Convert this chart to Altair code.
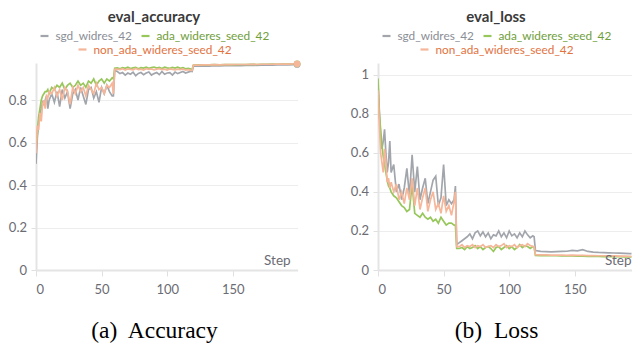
import altair as alt
import pandas as pd

steps = [0, 1, 2, 3, 4, 5, 6, 7, 8, 9, 10,
         12, 14, 16, 18, 20, 22, 24, 26, 28, 30, 32, 34, 36, 38, 40, 42, 44, 46, 48, 50, 52, 54, 56, 58,
         59, 60,
         62, 64, 66, 68, 70, 72, 74, 76, 78, 80, 82, 84, 86, 88, 90, 92, 94, 96, 98, 100, 102, 104, 106, 108,
         110, 112, 114, 116, 118,
         119, 120,
         124, 128, 132, 136, 140, 144, 148, 152, 156, 160, 164, 168, 172, 176, 180, 184, 188, 192, 196,
         199]

names = ["sgd_widres_42", "ada_wideres_seed_42", "non_ada_wideres_seed_42"]

acc_sgd = [0.50, 0.62, 0.70, 0.74, 0.76, 0.79, 0.78, 0.80, 0.82, 0.76, 0.80,
           0.83, 0.79, 0.84, 0.77, 0.85, 0.81, 0.84, 0.76, 0.83, 0.85, 0.80, 0.86, 0.82, 0.78, 0.85, 0.86,
           0.81, 0.84, 0.79, 0.86, 0.83, 0.87, 0.84, 0.82,
           0.82, 0.94,
           0.935, 0.925, 0.93, 0.918, 0.928, 0.922, 0.932, 0.915, 0.926, 0.93, 0.92, 0.928, 0.933, 0.918,
           0.925, 0.93, 0.92, 0.935, 0.922, 0.928, 0.93, 0.918, 0.932, 0.925, 0.93, 0.935, 0.928, 0.932, 0.936,
           0.935, 0.96,
           0.96, 0.961, 0.96, 0.962, 0.961, 0.963, 0.962, 0.964, 0.963, 0.964, 0.965, 0.964, 0.965, 0.966,
           0.965, 0.966, 0.967, 0.966, 0.967,
           0.968]
acc_ada = [0.58, 0.64, 0.72, 0.76, 0.80, 0.82, 0.83, 0.84, 0.84, 0.85, 0.83,
           0.86, 0.85, 0.87, 0.86, 0.88, 0.85, 0.87, 0.88, 0.86, 0.87, 0.89, 0.87, 0.88, 0.86, 0.89, 0.88,
           0.90, 0.87, 0.89, 0.90, 0.88, 0.90, 0.89, 0.905,
           0.90, 0.95,
           0.952, 0.948, 0.953, 0.95, 0.955, 0.949, 0.952, 0.954, 0.948, 0.953, 0.951, 0.955, 0.95, 0.953,
           0.956, 0.951, 0.954, 0.949, 0.955, 0.952, 0.95, 0.954, 0.951, 0.955, 0.95, 0.953, 0.948, 0.95, 0.946,
           0.945, 0.965,
           0.966, 0.965, 0.966, 0.967, 0.966, 0.967, 0.968, 0.967, 0.968, 0.968, 0.969, 0.968, 0.969, 0.969,
           0.97, 0.969, 0.97, 0.97, 0.971,
           0.971]
acc_non = [0.55, 0.68, 0.66, 0.74, 0.70, 0.78, 0.80, 0.76, 0.82, 0.81, 0.84,
           0.83, 0.86, 0.82, 0.85, 0.80, 0.86, 0.84, 0.78, 0.86, 0.83, 0.87, 0.84, 0.86, 0.82, 0.87, 0.85,
           0.83, 0.88, 0.85, 0.86, 0.83, 0.87, 0.86, 0.88,
           0.83, 0.945,
           0.946, 0.944, 0.948, 0.942, 0.947, 0.945, 0.943, 0.949, 0.944, 0.946, 0.942, 0.948, 0.945, 0.947,
           0.943, 0.946, 0.948, 0.944, 0.946, 0.942, 0.947, 0.945, 0.943, 0.946, 0.944, 0.947, 0.942, 0.944, 0.94,
           0.94, 0.965,
           0.965, 0.966, 0.966, 0.967, 0.966, 0.967, 0.967, 0.968, 0.968, 0.968, 0.969, 0.968, 0.969, 0.969,
           0.969, 0.97, 0.97, 0.97, 0.971,
           0.971]

loss_sgd = [0.95, 0.82, 0.68, 0.62, 0.66, 0.72, 0.60, 0.50, 0.55, 0.66, 0.50,
            0.54, 0.40, 0.44, 0.36, 0.42, 0.52, 0.38, 0.59, 0.40, 0.53, 0.36, 0.42, 0.47, 0.34, 0.40, 0.46,
            0.48, 0.33, 0.37, 0.54, 0.33, 0.36, 0.34, 0.36,
            0.43, 0.13,
            0.14, 0.15, 0.16, 0.17, 0.185, 0.16, 0.19, 0.20, 0.175, 0.195, 0.17, 0.19, 0.16, 0.18,
            0.175, 0.20, 0.17, 0.19, 0.165, 0.20, 0.175, 0.185, 0.165, 0.19, 0.17, 0.20, 0.18, 0.165, 0.175,
            0.17, 0.10,
            0.095, 0.094, 0.093, 0.094, 0.095, 0.096, 0.10, 0.098, 0.104, 0.095, 0.092, 0.09, 0.089, 0.088,
            0.087, 0.086, 0.085, 0.084, 0.083,
            0.082]
loss_ada = [0.98, 0.80, 0.72, 0.64, 0.58, 0.54, 0.50, 0.46, 0.43, 0.42, 0.40,
            0.38, 0.37, 0.35, 0.33, 0.32, 0.30, 0.31, 0.44, 0.29, 0.28, 0.27, 0.29, 0.27, 0.26, 0.27, 0.25,
            0.26, 0.24, 0.27, 0.25, 0.23, 0.24, 0.24, 0.23,
            0.23, 0.11,
            0.11, 0.115, 0.105, 0.12, 0.11, 0.115, 0.125, 0.11, 0.12, 0.105, 0.115, 0.12, 0.11, 0.095,
            0.115, 0.12, 0.105, 0.115, 0.125, 0.11, 0.12, 0.105, 0.115, 0.13, 0.115, 0.125, 0.12, 0.11, 0.12,
            0.115, 0.075,
            0.074, 0.074, 0.073, 0.073, 0.072, 0.072, 0.072, 0.071, 0.071, 0.07, 0.07, 0.07, 0.069, 0.069,
            0.068, 0.068, 0.067, 0.067, 0.066,
            0.065]
loss_non = [0.92, 0.75, 0.60, 0.55, 0.50, 0.62, 0.56, 0.45, 0.47, 0.42, 0.45,
            0.40, 0.44, 0.36, 0.40, 0.34, 0.42, 0.36, 0.47, 0.33, 0.42, 0.31, 0.37, 0.42, 0.30, 0.36, 0.40,
            0.31, 0.34, 0.29, 0.38, 0.30, 0.33, 0.28, 0.35,
            0.40, 0.12,
            0.12, 0.13, 0.115, 0.125, 0.12, 0.13, 0.115, 0.125, 0.12, 0.13, 0.115, 0.12, 0.125, 0.115,
            0.13, 0.12, 0.125, 0.135, 0.115, 0.125, 0.12, 0.13, 0.115, 0.125, 0.13, 0.12, 0.135, 0.125, 0.12,
            0.12, 0.078,
            0.077, 0.077, 0.076, 0.076, 0.076, 0.075, 0.076, 0.075, 0.075, 0.074, 0.074, 0.073, 0.073, 0.072,
            0.072, 0.071, 0.071, 0.07, 0.07,
            0.069]

line_colors = ["#a2a6ac", "#97c75b", "#f5b699"]
label_colors = ["#8a8e96", "#6f9e3a", "#e2733f"]

FONT = "Lato"
H = 207
PX_PER_STEP = 1.312


def long_df(series):
    rows = []
    for name, vals in zip(names, series):
        for s, v in zip(steps, vals):
            rows.append({"step": s, "value": v, "run": name})
    return pd.DataFrame(rows)


def text_layer(txt, x, y, size, color, weight="normal", align="left", font=FONT):
    return alt.Chart(pd.DataFrame({"t": [txt]})).mark_text(
        align=align, baseline="alphabetic", fontSize=size, font=font,
        fontWeight=weight, color=color
    ).encode(x=alt.value(x), y=alt.value(y), text="t:N")


def legend_item(i, sx, ly_sym, ly_txt):
    sym = alt.Chart(pd.DataFrame({"t": [names[i]]})).mark_rule(
        strokeWidth=2.2, color=line_colors[i]
    ).encode(x=alt.value(sx), x2=alt.value(sx + 8), y=alt.value(ly_sym))
    lab = text_layer(names[i], sx + 15, ly_txt, 11.8, label_colors[i])
    return [sym, lab]


def panel(series, ymax, yvals, title, caption, width, step_x, end_dot):
    df = long_df(series)
    xmax = width / PX_PER_STEP
    xenc = alt.X("step:Q", scale=alt.Scale(domain=[0, xmax], nice=False),
                 axis=alt.Axis(values=[0, 50, 100, 150], title=None, grid=False,
                               domainColor="#e4e4e4", domainWidth=2, tickColor="#e0e0e0",
                               tickSize=6, tickWidth=1, labelColor="#6b6b73", labelFontSize=13,
                               labelFont=FONT, labelPadding=7))
    yenc = alt.Y("value:Q", scale=alt.Scale(domain=[0, ymax], nice=False),
                 axis=alt.Axis(values=yvals, format="~g", title=None, grid=True,
                               gridColor="#ededed", domainColor="#e4e4e4", domainWidth=2,
                               tickColor="#e0e0e0", tickSize=5, labelColor="#6b6b73",
                               labelFontSize=13, labelFont=FONT, labelPadding=4.5))
    cenc = alt.Color("run:N", scale=alt.Scale(domain=names, range=line_colors), legend=None)
    base = alt.Chart(df)
    layers = []
    for n in names:
        layers.append(base.transform_filter(alt.datum.run == n).mark_line(
            strokeWidth=1.7, clip=True).encode(x=xenc, y=yenc, color=cenc))
    if end_dot:
        layers.append(base.transform_filter(alt.datum.step == steps[-1]).mark_point(
            filled=True, size=45, opacity=1, clip=False).encode(x=xenc, y=yenc, color=cenc))
    layers.append(text_layer(title, 118, -41, 15, "#3a3a3a", weight="bold", align="center"))
    layers += legend_item(0, 4.5, -27, -22.8)
    layers += legend_item(1, 105.5, -27, -22.8)
    layers += legend_item(2, 42.5, -13.5, -9.5)
    layers.append(text_layer("Step", step_x, H - 5, 13.5, "#6b6b73", align="right"))
    layers.append(text_layer(caption, 118.5, 275, 23.5, "#000000", align="center",
                             font="Liberation Serif"))
    return alt.layer(*layers).properties(width=width, height=H)


left = panel([acc_sgd, acc_ada, acc_non], 0.975, [0, 0.2, 0.4, 0.6, 0.8],
             "eval_accuracy", "(a)\u00a0 Accuracy", 261.6, 254.6, True)
right = panel([loss_sgd, loss_ada, loss_non], 1.06, [0, 0.2, 0.4, 0.6, 0.8, 1],
              "eval_loss", "(b)\u00a0 Loss", 253.5, 253.5, False)

chart = alt.hconcat(left, right, spacing=80, bounds="flush").properties(
    padding={"left": 0, "top": 2, "right": 0, "bottom": 0}
).configure_view(stroke=None)

chart.save("out.html", embed_options={"renderer": "svg", "actions": False})
